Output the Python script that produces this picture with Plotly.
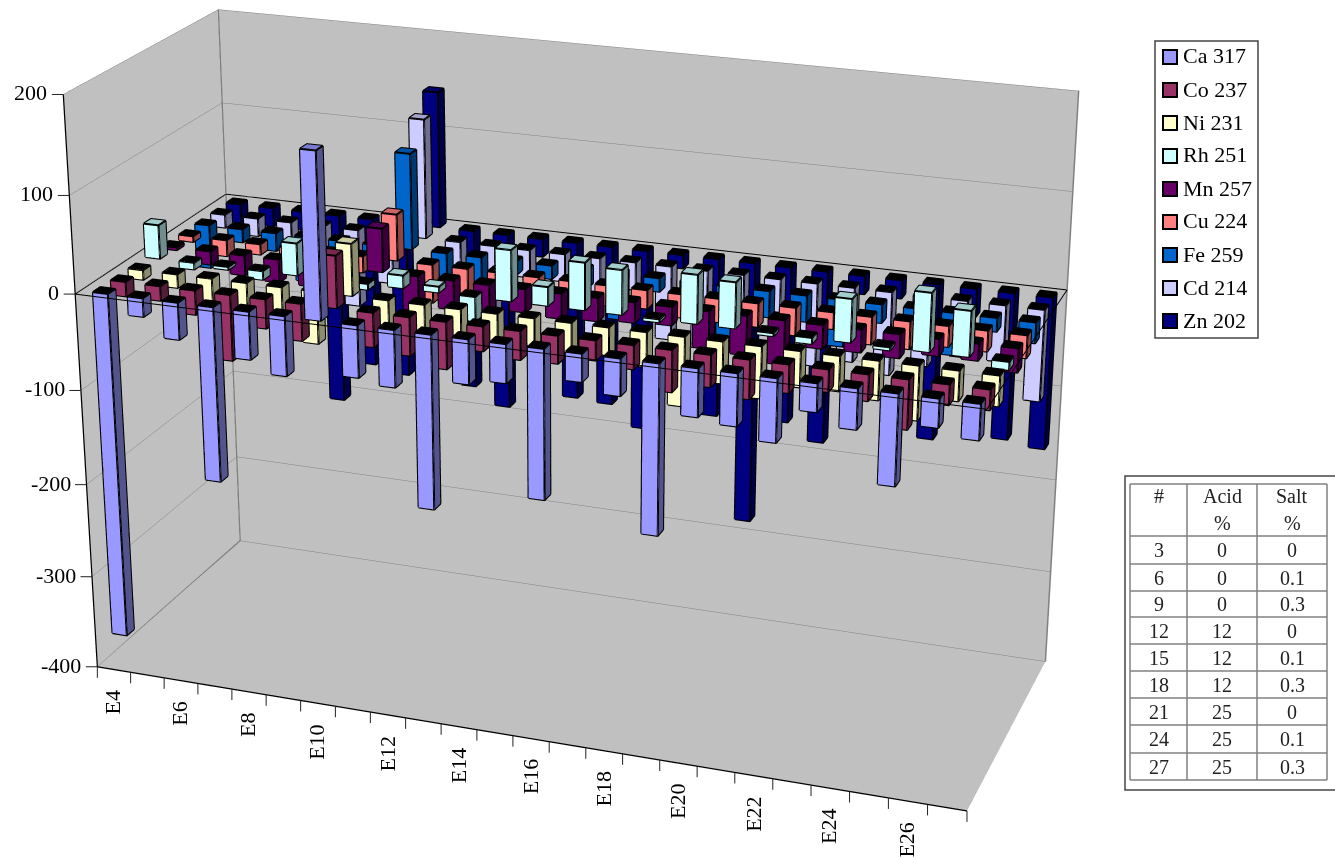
import math
import plotly.graph_objects as go

W, H = 1335, 859
categories = ["E%d" % i for i in range(4, 28)]
series_names = ["Ca 317", "Co 237", "Ni 231", "Rh 251", "Mn 257", "Cu 224", "Fe 259", "Cd 214", "Zn 202"]
series_colors = ["#9999FF", "#993366", "#FFFFCC", "#CCFFFF", "#660066", "#FF8080", "#0066CC", "#CCCCFF", "#000080"]
ca = [-365,-19,-38,-181,-49,-61,168,-53,-58,-178,-45,-39,-152,-28,-37,-172,-48,-52,-63,-28,-40,-90,-28,-35]
co = [-15,-15,-25,-68,-30,-38,53,-35,-39,-48,-25,-29,-28,-20,-24,-42,-32,-39,-28,-22,-26,-49,-20,-20]
ni = [-10,-14,-24,-26,-30,-54,53,-28,-28,-28,-28,-28,-30,-28,-35,-70,-42,-52,-36,-35,-39,-54,-30,-30]
rh = [35,-7,-3,-9,33,-5,-6,13,6,-25,52,19,48,45,-3,49,46,-3,-6,43,-3,58,45,-8]
mn = [-3,-14,-21,-24,-24,-19,45,-36,-30,-28,-24,-26,-24,-21,-19,-38,-40,-45,-24,-23,-24,-17,-17,-24]
cu = [-6,-17,-11,-14,-14,-17,48,-40,-28,-24,-21,-24,-21,-19,-24,-24,-24,-28,-17,-28,-28,-21,-21,-23]
fe = [-46,-14,-19,-48,-19,-19,100,-33,-28,-14,-14,-19,-48,-14,-19,-62,-27,-27,-48,-19,-11,-43,-14,-21]
cd = [-14,-19,-24,-38,-82,-53,125,-29,-110,-29,-29,-105,-29,-77,-82,-34,-34,-86,-77,-86,-72,-58,-58,-94]
zn = [-20,-20,-20,-205,-160,-167,143,-170,-188,-19,-168,-170,-192,-14,-168,-279,-165,-182,-19,-19,-163,-29,-153,-158]
series_values = [ca, co, ni, rh, mn, cu, fe, cd, zn]
z_ticks = [-400, -300, -200, -100, 0, 100, 200]
table_header = [["#", ""], ["Acid", "%"], ["Salt", "%"]]
table_num = ["3", "6", "9", "12", "15", "18", "21", "24", "27"]
table_acid = ["0", "0", "0", "12", "12", "12", "25", "25", "25"]
table_salt = ["0", "0.1", "0.3", "0", "0.1", "0.3", "0", "0.1", "0.3"]

cpx = 576.0
eye = dict(x=1.1445, y=-3.1602, z=1.2928)
center = dict(x=0.0452, y=-0.1126, z=0)
focal = 3306.2
ay, az = 0.3750, 0.6660
fovy = 2*math.atan(H/(2*focal))

BW, BD = 0.43, 0.42
X0, Y0 = 0.36, 0.29
def shade(hexc, k):
    rgb=[int(hexc[i:i+2],16) for i in (1,3,5)]
    return "rgb(%d,%d,%d)"%tuple(int(v*k) for v in rgb)

fig = go.Figure()
for j,(vals,col) in enumerate(zip(series_values,series_colors)):
    vx,vy,vz,I,J_,K,fc=[],[],[],[],[],[],[]
    lx,ly,lz=[],[],[]
    for i,v in enumerate(vals):
        x0,x1=i+X0,i+X0+BW; y0,y1=j+Y0,j+Y0+BD; z0,z1=min(0,v),max(0,v)
        b=len(vx)
        for zz in (z0,z1):
            for xx,yy in ((x0,y0),(x1,y0),(x1,y1),(x0,y1)):
                vx.append(xx);vy.append(yy);vz.append(zz)
        side=shade(col,0.55); top=shade(col,0.8) if v>0 else "rgb(0,0,0)"
        faces=[((0,1,5,4),shade(col,1)),((1,2,6,5),side),((2,3,7,6),side),((3,0,4,7),side),((4,5,6,7),top),((0,1,2,3),"rgb(0,0,0)")]
        for q,cl in faces:
            I+= [b+q[0],b+q[0]];J_+=[b+q[1],b+q[2]];K+=[b+q[2],b+q[3]];fc+=[cl,cl]
        for path in [[(x0,y0,z0),(x1,y0,z0),(x1,y1,z0),(x0,y1,z0),(x0,y0,z0)],
                     [(x0,y0,z1),(x1,y0,z1),(x1,y1,z1),(x0,y1,z1),(x0,y0,z1)],
                     [(x0,y0,z0),(x0,y0,z1)],[(x1,y0,z0),(x1,y0,z1)],[(x1,y1,z0),(x1,y1,z1)],[(x0,y1,z0),(x0,y1,z1)]]:
            for P in path:
                lx.append(P[0]);ly.append(P[1]);lz.append(P[2])
            lx.append(None);ly.append(None);lz.append(None)
    fig.add_trace(go.Mesh3d(x=vx,y=vy,z=vz,i=I,j=J_,k=K,facecolor=fc,flatshading=True,
        lighting=dict(ambient=1,diffuse=0,specular=0,fresnel=0,roughness=1),hoverinfo="skip",name=series_names[j]))
    fig.add_trace(go.Scatter3d(x=lx,y=ly,z=lz,mode="lines",line=dict(color="black",width=4),hoverinfo="skip",showlegend=False))

def edge(pts,color,w):
    fig.add_trace(go.Scatter3d(x=[a for a,_,_ in pts],y=[b for _,b,_ in pts],z=[c_ for _,_,c_ in pts],mode="lines",
                  line=dict(color=color,width=w),hoverinfo="skip",showlegend=False))
nx,ny=len(categories),len(series_names); zl,zh=z_ticks[0],z_ticks[-1]
edge([(0,0,zh),(0,ny,zh),(nx,ny,zh),(nx,ny,zl),(nx,0,zl)],"#808080",3)
edge([(0,ny,zh),(0,ny,zl),(nx,ny,zl)],"#808080",3)
edge([(0,ny,zl),(0,0,zl)],"#808080",3)
edge([(0,0,zh),(0,0,zl),(nx,0,zl)],"#000000",2.5)
edge([(0,0,0),(nx,0,0),(nx,ny,0),(0,ny,0),(0,0,0)],"#000000",2)

font=dict(family="Liberation Serif",size=22,color="black")
annos3d=[dict(x=i+0.5,y=0,z=zl,text=categories[i],showarrow=False,textangle=-90,yanchor="top",xanchor="center",
              yshift=-20,xshift=-1,borderpad=0,font=font) for i in range(0,nx,2)]
for i in range(nx+1):
    annos3d.append(dict(x=i,y=0,z=zl,text=" ",showarrow=True,arrowhead=0,ax=0,ay=13,arrowwidth=1,arrowcolor="#222222",font=dict(size=1)))
for t in z_ticks:
    annos3d.append(dict(x=0,y=0,z=t,text=" ",showarrow=True,arrowhead=0,ax=-13,ay=0,arrowwidth=1,arrowcolor="#222222",font=dict(size=1)))
    annos3d.append(dict(x=0,y=0,z=t,text=str(t),showarrow=False,xanchor="right",yanchor="middle",xshift=-15,yshift=1.5,borderpad=0,font=font))
axis_common=dict(showbackground=True,backgroundcolor="#C0C0C0",showspikes=False,title=dict(text=""),zeroline=False,showticklabels=False,ticks="")
fig.update_layout(
    width=W,height=H,margin=dict(l=0,r=0,t=0,b=0),paper_bgcolor="white",showlegend=False,
    scene=dict(domain=dict(x=[0,2*cpx/W],y=[0,1]),aspectmode="manual",
        aspectratio=dict(x=1,y=ay,z=az),
        camera=dict(eye=eye,center=center,up=dict(x=0,y=0,z=1)),
        xaxis=dict(axis_common,range=[0,nx],showgrid=False),
        yaxis=dict(axis_common,range=[0,ny],showgrid=False),
        zaxis=dict(axis_common,range=[zl,zh],tickvals=z_ticks,showgrid=True,gridcolor="#808080",gridwidth=1),
        annotations=annos3d),
)
def px(x): return x/W
def py(y): return 1-y/H
shapes=[];annos=[]
shapes.append(dict(type="rect",xref="paper",yref="paper",x0=px(1155),x1=px(1258),y0=py(41),y1=py(338),line=dict(color="#444444",width=1.5),fillcolor="white"))
for j,(n,cl) in enumerate(zip(series_names,series_colors)):
    yc=57+33*j
    shapes.append(dict(type="rect",xref="paper",yref="paper",x0=px(1163),x1=px(1177),y0=py(yc-7),y1=py(yc+7),line=dict(color="black",width=2),fillcolor=cl))
    annos.append(dict(xref="paper",yref="paper",x=px(1182),y=py(yc-1),text=n,showarrow=False,xanchor="left",yanchor="middle",borderpad=0,font=font))
gc="#808080"
shapes.append(dict(type="rect",xref="paper",yref="paper",x0=px(1125),x1=px(1345),y0=py(476),y1=py(790),line=dict(color="#444444",width=1.5),fillcolor="white"))
colx=[1130,1187,1257,1327]
rowy=[484,536,564,591,617,644,671,698,725,753,780]
for xx in colx:
    shapes.append(dict(type="line",xref="paper",yref="paper",x0=px(xx),x1=px(xx),y0=py(484),y1=py(780),line=dict(color=gc,width=1.5)))
for yy in rowy:
    shapes.append(dict(type="line",xref="paper",yref="paper",x0=px(1130),x1=px(1327),y0=py(yy),y1=py(yy),line=dict(color=gc,width=1.5)))
tf=dict(family="Liberation Serif",size=20,color="#222222")
mid=[(colx[k]+colx[k+1])/2 for k in range(3)]
for k in range(3):
    for l,t in enumerate(table_header[k]):
        if t: annos.append(dict(xref="paper",yref="paper",x=px(mid[k]),y=py(496+27*l),text=t,showarrow=False,xanchor="center",yanchor="middle",font=tf))
for l,(a,b_,c_) in enumerate(zip(table_num,table_acid,table_salt)):
    yc=(rowy[l+1]+rowy[l+2])/2
    for k,t in enumerate((a,b_,c_)):
        annos.append(dict(xref="paper",yref="paper",x=px(mid[k]),y=py(yc),text=t,showarrow=False,xanchor="center",yanchor="middle",font=tf))
fig.update_layout(shapes=shapes,annotations=annos)
post = """
document.body.style.margin='0';document.body.style.overflow='hidden';
var gd=document.getElementById('{plot_id}');
function fix(){var s=gd._fullLayout.scene._scene; s.glplot.fovy=%f; s.glplot.redraw();}
fix(); setTimeout(fix,200); setTimeout(fix,800);
""" % fovy
fig.write_html("out.html",post_script=post,config=dict(displayModeBar=False))
